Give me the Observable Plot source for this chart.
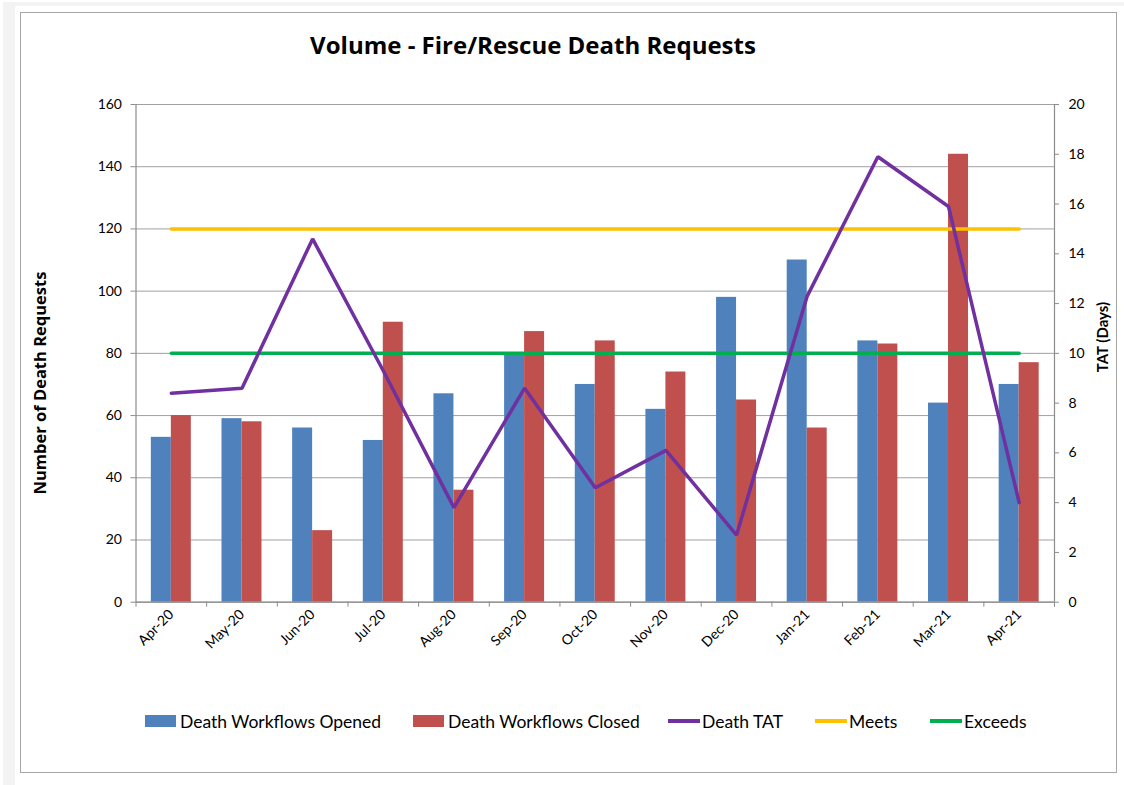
<!DOCTYPE html>
<html><head><meta charset="utf-8">
<script src="https://cdn.jsdelivr.net/npm/d3@7"></script>
<script src="https://cdn.jsdelivr.net/npm/@observablehq/plot@0.6"></script>
<style>
body{margin:0;width:1124px;height:785px;position:relative;background:#fff;overflow:hidden;font-family:Lato,sans-serif;}
#bg{position:absolute;left:3px;top:2px;width:1121px;height:783px;background:#f3f3f3}
#card{position:absolute;left:15px;top:6px;width:1109px;height:779px;background:#fff}
#frame{position:absolute;left:20px;top:12px;width:1095px;height:759px;border:1.5px solid #a6a6a6;box-sizing:content-box}
#title{position:absolute;left:0;width:1066px;top:28px;text-align:center;font:bold 24px "Open Sans",sans-serif;color:#000;white-space:nowrap}
#chart{position:absolute;left:0;top:80px}
.ytitle{position:absolute;white-space:nowrap;transform:translate(-50%,-50%) rotate(-90deg);color:#000}
.leg{position:absolute;top:711px;height:20px;display:flex;align-items:center;font:17.5px Lato,sans-serif;color:#000;white-space:nowrap}
.sw{display:inline-block;width:31px;height:12px;margin-right:4px}
.ln{display:inline-block;width:32px;height:4px;margin-right:2px}
</style></head>
<body>
<div id="bg"></div><div id="card"></div><div id="frame"></div>
<div id="title">Volume - Fire/Rescue Death Requests</div>
<div class="ytitle" style="left:39px;top:383px;font:bold 16.5px 'Open Sans',sans-serif">Number of Death Requests</div>
<div class="ytitle" style="left:1102px;top:337px;font:bold 15px Lato,sans-serif">TAT (Days)</div>
<div id="chart"></div>
<div id="legend"></div>
<script>
const months = ["Apr-20","May-20","Jun-20","Jul-20","Aug-20","Sep-20","Oct-20","Nov-20","Dec-20","Jan-21","Feb-21","Mar-21","Apr-21"];
const opened = [53,59,56,52,67,80,70,62,98,110,84,64,70];
const closed = [60,58,23,90,36,87,84,74,65,56,83,144,77];
const tat = [8.4,8.6,14.6,9.3,3.8,8.6,4.6,6.1,2.7,12.3,17.9,15.9,4.0];
const meetsTarget = 15;
const exceedsTarget = 10;
const leftTicks = [0,20,40,60,80,100,120,140,160];
const rightTicks = [0,2,4,6,8,10,12,14,16,18,20];
const seriesNames = ["Death Workflows Opened","Death Workflows Closed","Death TAT","Meets","Exceeds"];
const colors = ["#4F81BD","#C0504D","#7030A0","#FFC000","#00B050"];

const RATIO = 160 / 20; // left units per day
const idx = months.map((m, i) => i);
const barW = 0.283;
const axisColor = "#8c8c8c";

const chart = Plot.plot({
  width: 1124, height: 580,
  marginLeft: 135.5, marginRight: 70, marginTop: 24, marginBottom: 58.3,
  x: {type: "linear", domain: [-0.5, 12.5]},
  y: {domain: [0, 160]},
  style: {fontFamily: "Lato, sans-serif", fontSize: "14px", color: "#000", background: "transparent"},
  marks: [
    Plot.gridY(leftTicks, {stroke: "#a0a0a0", strokeOpacity: 1, strokeWidth: 1}),
    Plot.rectY(idx, {x1: i => i - barW, x2: i => i, y1: 0, y2: i => opened[i], fill: colors[0]}),
    Plot.rectY(idx, {x1: i => i, x2: i => i + barW, y1: 0, y2: i => closed[i], fill: colors[1]}),
    Plot.line(idx, {x: i => i, y: () => meetsTarget * RATIO, stroke: colors[3], strokeWidth: 3.5}),
    Plot.line(idx, {x: i => i, y: () => exceedsTarget * RATIO, stroke: colors[4], strokeWidth: 3.5}),
    Plot.line(idx, {x: i => i, y: i => tat[i] * RATIO, stroke: colors[2], strokeWidth: 3.5, strokeLinejoin: "miter"}),
    Plot.ruleX([-0.5, 12.5], {stroke: axisColor, strokeWidth: 1.2}),
    Plot.ruleY([0], {stroke: axisColor, strokeWidth: 1.2}),
    Plot.axisY({anchor: "left", ticks: leftTicks, tickSize: 5, tickPadding: 9, label: null, stroke: axisColor, fill: "#000", fontSize: 14}),
    Plot.axisY({anchor: "right", ticks: rightTicks.map(d => d * RATIO), tickFormat: d => d / RATIO, tickSize: 4, tickPadding: 10, label: null, stroke: axisColor, fill: "#000", fontSize: 14}),
    Plot.axisX({ticks: idx, tickFormat: i => months[i], tickSize: 0, tickRotate: -45, tickPadding: 10, label: null, fill: "#000", fontSize: 14}),
    Plot.axisX({ticks: d3.range(-0.5, 13, 1), tickFormat: () => "", tickSize: 5, label: null, stroke: axisColor})
  ]
});
document.getElementById("chart").appendChild(chart);

const legLefts = [145, 413, 668, 815, 930];
const legend = document.getElementById("legend");
seriesNames.forEach((name, k) => {
  const d = document.createElement("div");
  d.className = "leg";
  d.style.left = legLefts[k] + "px";
  const s = document.createElement("span");
  s.className = k < 2 ? "sw" : "ln";
  s.style.background = colors[k];
  d.appendChild(s);
  d.appendChild(document.createTextNode(name));
  legend.appendChild(d);
});
</script>
</body></html>
